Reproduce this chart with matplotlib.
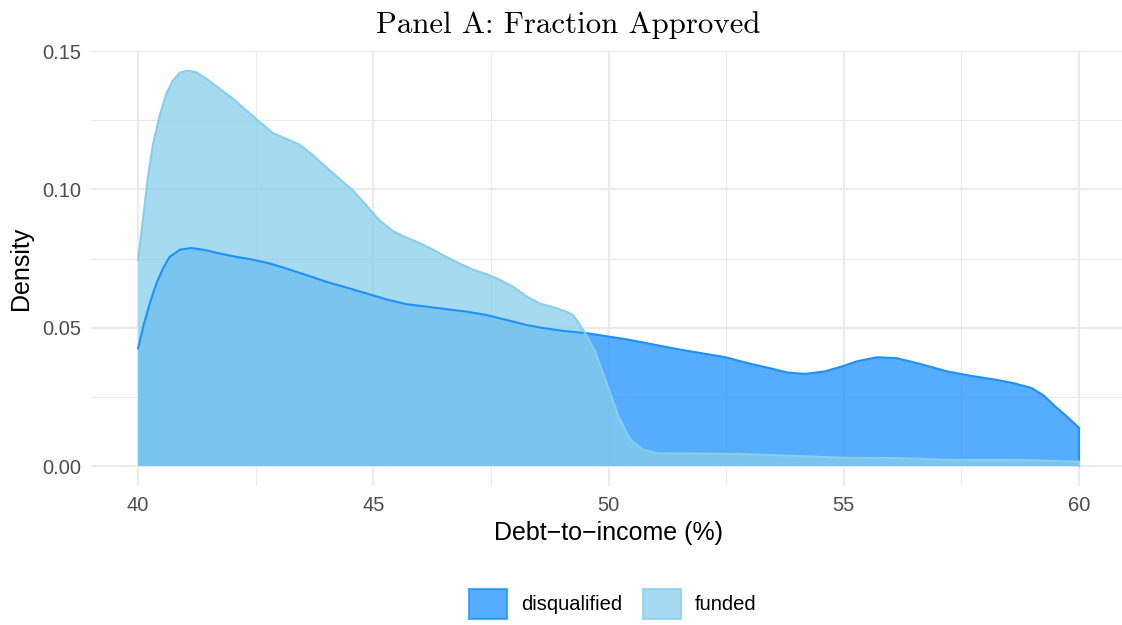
import numpy as np
from matplotlib import pyplot as plt
from matplotlib.patches import Patch
from matplotlib.ticker import MultipleLocator

plt.rcParams['font.family'] = ['Liberation Sans', 'DejaVu Sans']

# values (density estimates)
dq_x = [40.0, 40.11, 40.25, 40.39, 40.53, 40.67, 40.89, 41.13, 41.38, 41.74,
        42.09, 42.44, 42.80, 43.15, 43.58, 44.0, 44.43, 44.85, 45.28, 45.70,
        46.13, 46.55, 46.98, 47.40, 47.83, 48.25, 48.53, 49.0, 49.54, 50.38,
        51.48, 52.49, 53.0, 53.42, 53.8, 54.18, 54.6, 55.0, 55.27, 55.7,
        56.12, 56.6, 57.2, 57.7, 58.23, 58.6, 58.99, 59.25, 59.49, 59.75, 60.0]
dq_y = [0.0425, 0.0504, 0.0588, 0.066, 0.0714, 0.0756, 0.0782, 0.0788, 0.0782, 0.0768,
        0.0756, 0.0746, 0.0732, 0.0714, 0.069, 0.0666, 0.0645, 0.0624, 0.0602, 0.0585,
        0.0576, 0.0567, 0.0558, 0.0546, 0.0528, 0.051, 0.0501, 0.0489, 0.048, 0.0458,
        0.0422, 0.0393, 0.037, 0.0354, 0.0338, 0.0333, 0.0342, 0.0362, 0.0378, 0.0393,
        0.039, 0.037, 0.0342, 0.0326, 0.0312, 0.030, 0.0282, 0.0255, 0.0216, 0.0178, 0.0138]

fu_x = [40.0, 40.11, 40.21, 40.32, 40.46, 40.60, 40.74, 40.89, 41.06, 41.24,
        41.45, 41.74, 42.02, 42.30, 42.59, 42.87, 43.15, 43.43, 43.72, 44.0,
        44.28, 44.57, 44.85, 45.13, 45.42, 45.70, 45.98, 46.27, 46.55, 46.83,
        47.12, 47.40, 47.68, 47.97, 48.25, 48.53, 48.8, 49.11, 49.24, 49.37,
        49.5, 49.7, 49.96, 50.21, 50.46, 50.72, 51.05, 52.74, 55.0, 56.1,
        57.2, 58.65, 60.0]
fu_y = [0.0744, 0.090, 0.1045, 0.1165, 0.1267, 0.1345, 0.1393, 0.1422, 0.1429, 0.1423,
        0.140, 0.1363, 0.1327, 0.1285, 0.1243, 0.1203, 0.1183, 0.1162, 0.1123, 0.108,
        0.1038, 0.0996, 0.0942, 0.0888, 0.0849, 0.0826, 0.0806, 0.0782, 0.0756, 0.0732,
        0.071, 0.0694, 0.0674, 0.0648, 0.0614, 0.0588, 0.0575, 0.0558, 0.0546, 0.0516,
        0.048, 0.042, 0.030, 0.018, 0.0096, 0.006, 0.0046, 0.0044, 0.003, 0.0029,
        0.0022, 0.0022, 0.0016]

groups = ["disqualified", "funded"]
colors = {"disqualified": "#1E90FF", "funded": "#87CEEB"}
series = {"disqualified": (dq_x, dq_y), "funded": (fu_x, fu_y)}

fig = plt.figure(figsize=(11.22, 6.25), dpi=100)
ax = fig.add_axes([91 / 1122, 1 - 485.8 / 625, (1126 - 91) / 1122, (485.8 - 50.6) / 625])

for g in groups:
    x, y = series[g]
    ax.fill_between(x, 0, y, facecolor=colors[g], alpha=0.75, linewidth=0, zorder=2)
    ax.plot(x, y, color=colors[g], lw=1.5, zorder=3, solid_joinstyle='round')
    ax.plot([x[-1], x[-1]], [0, y[-1]], color=colors[g], lw=1.5, zorder=3)

ax.set_xlim(39, 61)
ax.set_ylim(-0.00715, 0.15015)
ax.xaxis.set_major_locator(MultipleLocator(5))
ax.xaxis.set_minor_locator(MultipleLocator(2.5))
ax.yaxis.set_major_locator(MultipleLocator(0.05))
ax.yaxis.set_minor_locator(MultipleLocator(0.025))
ax.yaxis.set_major_formatter(plt.FuncFormatter(lambda v, p: f"{v:.2f}"))
ax.xaxis.set_major_formatter(plt.FuncFormatter(lambda v, p: f"{v:.0f}"))

ax.grid(which='major', color='#EBEBEB', lw=1.6, zorder=0)
ax.grid(which='minor', color='#EBEBEB', lw=0.8, zorder=0)
ax.set_axisbelow(True)
for s in ax.spines.values():
    s.set_visible(False)
ax.tick_params(which='both', length=0, labelsize=14.5, labelcolor='#4D4D4D')
ax.tick_params(axis='x', pad=7)
ax.tick_params(axis='y', pad=7)

ax.set_xlabel("Debt\u2212to\u2212income (%)", fontsize=18, labelpad=5)
ax.set_ylabel("Density", fontsize=18, labelpad=7)

fig.text(568 / 1122, 1 - 33 / 625, "Panel A: Fraction Approved", family='cmr10',
         fontsize=22.2, ha='center', va='baseline')

handles = [Patch(facecolor=colors[g], alpha=0.75, edgecolor=colors[g], lw=1.5) for g in groups]
fig.legend(handles, groups, loc='center', bbox_to_anchor=(613 / 1122, 1 - 604 / 625),
           ncol=2, frameon=False, fontsize=14.5, handlelength=1.9, handleheight=1.9,
           handletextpad=0.7, columnspacing=1.0)

plt.savefig('out.png', dpi=100)
